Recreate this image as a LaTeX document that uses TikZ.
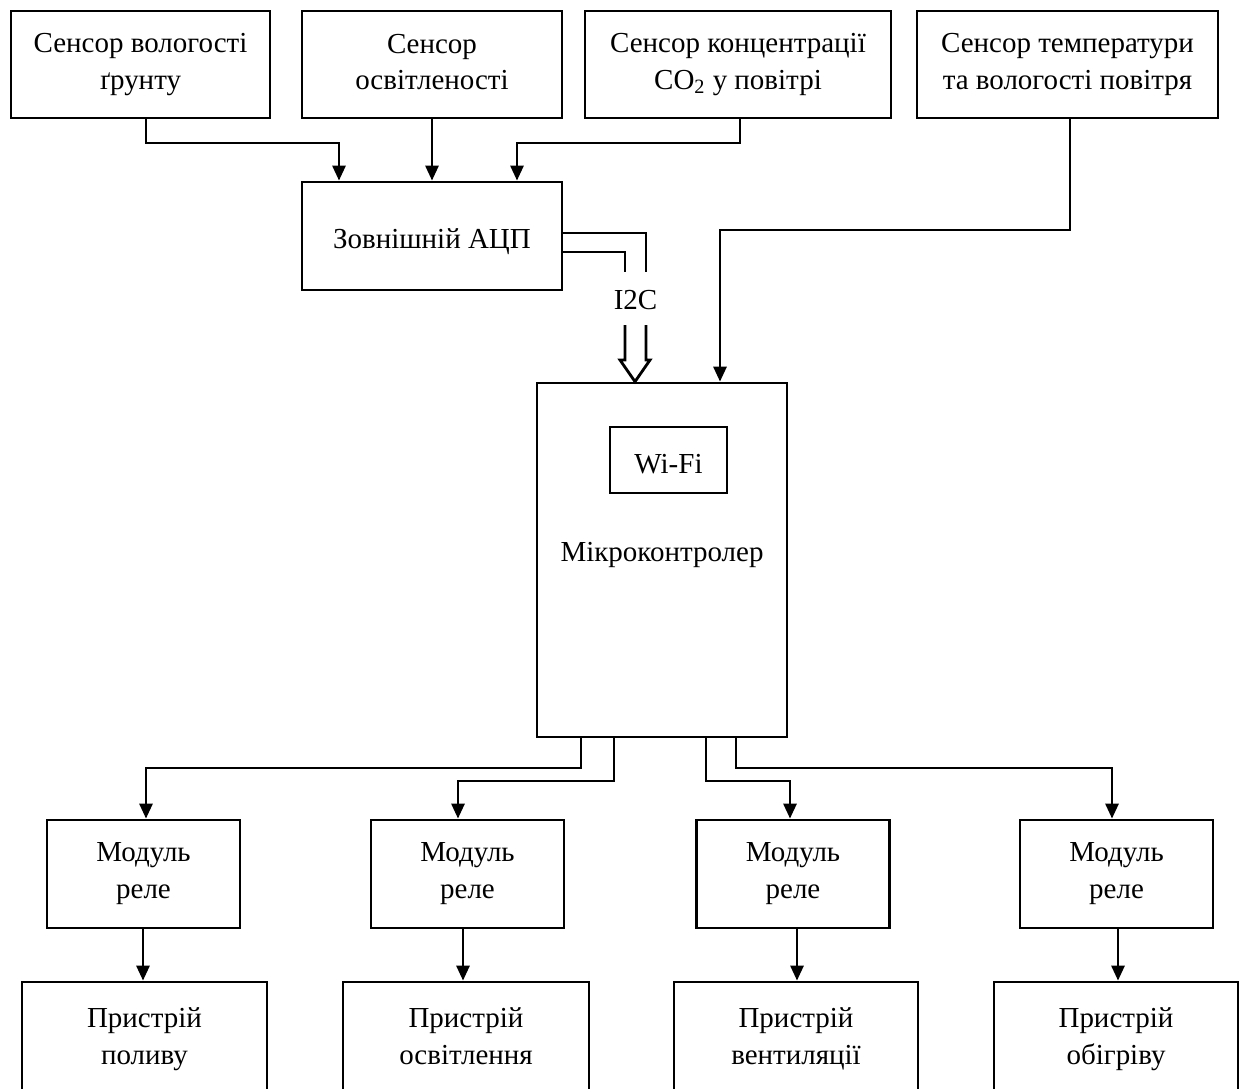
\documentclass[tikz,border=0pt]{standalone}
\usepackage{fontspec}
\setmainfont{Liberation Serif}
\usetikzlibrary{arrows.meta}
\begin{document}
\begin{tikzpicture}[x=0.02cm,y=-0.02cm,
  box/.style={draw, line width=1.6pt, inner sep=0pt, align=center,
    font=\fontsize{16.5}{21}\selectfont,
    execute at begin node={\rule{0pt}{18.1pt}},
    execute at end node={\rule[-2.9pt]{0pt}{2.9pt}}},
  lbl/.style={inner sep=0pt, align=center, font=\fontsize{16.5}{21}\selectfont},
  conn/.style={line width=1.6pt},
  arr/.style={line width=1.6pt, -{Triangle[length=0.3cm,width=0.26cm]}},
  relay/.style={box, minimum width=3.86cm, minimum height=2.16cm},
  dev/.style={box, minimum width=4.9cm, minimum height=2.28cm}]
\useasboundingbox (0,0) rectangle (1246,1088);
\clip (0,0) rectangle (1246,1088);
% sensors
\node[box, minimum width=5.18cm, minimum height=2.14cm] (s1) at (140.5,64.5) {Сенсор вологості\\ґрунту};
\node[box, minimum width=5.2cm, minimum height=2.14cm] (s2) at (432,64.5) {Сенсор\\освітленості};
\node[box, minimum width=6.12cm, minimum height=2.14cm] (s3) at (738,64.5) {Сенсор концентрації\\CO\textsubscript{2} у повітрі};
\node[box, minimum width=6.02cm, minimum height=2.14cm] (s4) at (1067.5,64.5) {Сенсор температури\\та вологості повітря};
% ADC
\node[box, minimum width=5.2cm, minimum height=2.16cm] (adc) at (432,236) {Зовнішній АЦП};
% MCU
\node[box, minimum width=5.0cm, minimum height=7.08cm] (mcu) at (662,560) {};
\node[box, minimum width=2.34cm, minimum height=1.32cm] (wifi) at (668.5,460) {Wi-Fi};
\node[lbl] (mcul) at (662,555) {Мікроконтролер};
% relays
\node[relay] (r1) at (143.5,874) {Модуль\\реле};
\node[relay] (r2) at (467.5,874) {Модуль\\реле};
\node[relay] (r3) at (793,874) {Модуль\\реле};
\node[relay] (r4) at (1116.5,874) {Модуль\\реле};
% devices
\node[dev] (d1) at (144.5,1039) {Пристрій\\поливу};
\node[dev, minimum width=4.92cm] (d2) at (466,1039) {Пристрій\\освітлення};
\node[dev, minimum width=4.88cm] (d3) at (796,1039) {Пристрій\\вентиляції};
\node[dev, minimum width=4.88cm] (d4) at (1116,1039) {Пристрій\\обігріву};
% sensor -> ADC
\draw[arr] (s1.south -| 146,0) |- (339,143) -- (adc.north -| 339,0);
\draw[arr] (s2.south) -- (adc.north);
\draw[arr] (s3.south -| 740,0) |- (517,143) -- (adc.north -| 517,0);
% temp sensor -> MCU
\draw[arr] (s4.south -| 1070,0) |- (720,230) -- (mcu.north -| 720,0);
% I2C bus
\draw[conn] (adc.east |- 0,233) -| (646,272);
\draw[conn] (adc.east |- 0,252) -| (625,272);
\node[lbl] (i2c) at (635.5,300) {I2C};
\coordinate (tip) at (mcu.north -| 635,0);
\draw[conn, line join=miter] (625,325) -- (625,360) -- (620,360) -- (tip) -- (650,360) -- (646,360) -- (646,325);
% MCU -> relays
\draw[arr] (mcu.south -| 581,0) |- (146,768) -- (r1.north -| 146,0);
\draw[arr] (mcu.south -| 614,0) |- (458,781) -- (r2.north -| 458,0);
\draw[arr] (mcu.south -| 706,0) |- (790,781) -- (r3.north -| 790,0);
\draw[arr] (mcu.south -| 736,0) |- (1112,768) -- (r4.north -| 1112,0);
% relays -> devices
\draw[arr] (r1.south -| 143,0) -- (d1.north -| 143,0);
\draw[arr] (r2.south -| 463,0) -- (d2.north -| 463,0);
\draw[arr] (r3.south -| 797,0) -- (d3.north -| 797,0);
\draw[arr] (r4.south -| 1118,0) -- (d4.north -| 1118,0);
\end{tikzpicture}
\end{document}
